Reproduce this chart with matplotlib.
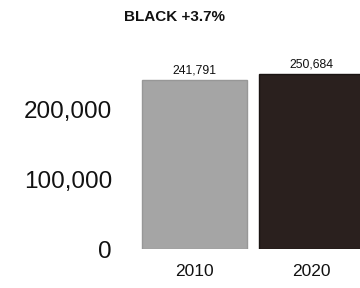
import matplotlib
matplotlib.use("Agg")
import matplotlib.pyplot as plt
from matplotlib.ticker import FuncFormatter

title = "BLACK +3.7%"
categories = ["2010", "2020"]
values = [241791, 250684]
yticks = [0, 100000, 200000]
colors = ["#a5a5a5", "#2a201e"]
edges = ["#979797", "#1a1412"]

W, H = 360, 288
fig = plt.figure(figsize=(3.6, 2.88), dpi=100)
plt.rcParams['font.family'] = ['Liberation Sans', 'DejaVu Sans']

left_px, right_px = 130, 360
bottom_px, top_px = 249, 40
ax = fig.add_axes([left_px / W, 1 - bottom_px / H, (right_px - left_px) / W, (bottom_px - top_px) / H])

x = list(range(len(categories)))
bars = ax.bar(x, values, width=0.897, color=colors, edgecolor=edges, linewidth=1.0)
ax.set_xlim(-0.551, 1.415)
ax.set_ylim(0, 299000)

for xi, v in zip(x, values):
    ax.text(xi, v + 5000, f"{v:,}", ha="center", va="bottom", fontsize=8.8, color="#111111")

ax.set_xticks(x)
ax.set_xticklabels(categories, fontsize=12.5, color="#111111")
ax.set_yticks(yticks)
ax.yaxis.set_major_formatter(FuncFormatter(lambda v, p: f"{int(v):,}"))
for lab in ax.get_yticklabels():
    lab.set_fontsize(17.5)
    lab.set_color("#111111")
ax.tick_params(axis="y", length=0, pad=13)
ax.tick_params(axis="x", length=0, pad=11)
for s in ax.spines.values():
    s.set_visible(False)

fig.text(175 / W, 1 - 17 / H, title, ha="center", va="center", fontsize=11, fontweight="bold", color="#111111")

fig.savefig("out.png", dpi=100)
